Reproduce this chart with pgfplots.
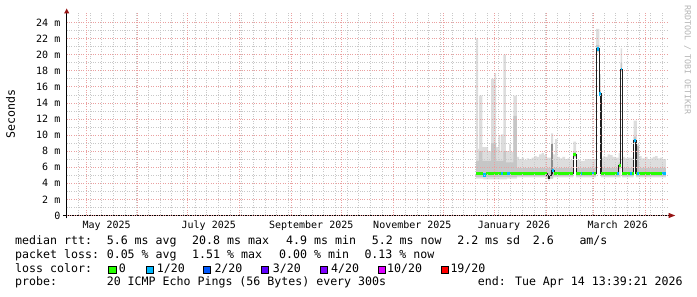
\documentclass[border=0pt]{standalone}
\usepackage{pgfplots}
\pgfplotsset{compat=1.18}
\usepgfplotslibrary{fillbetween}
\usepackage{fontspec}
\setmainfont{DejaVu Sans Mono}
\definecolor{smokeA}{RGB}{221,221,221}
\definecolor{smokeB}{RGB}{198,198,198}
\definecolor{smokeC}{RGB}{140,140,140}
\definecolor{mgrid}{RGB}{234,160,160}
\definecolor{lgrid}{RGB}{200,200,200}
\definecolor{medline}{HTML}{202020}
\definecolor{loss0}{HTML}{26FF00}
\definecolor{loss1}{HTML}{00B8FF}
\definecolor{loss2}{HTML}{0059FF}
\definecolor{loss3}{HTML}{5E00FF}
\definecolor{loss4}{HTML}{7E00FF}
\definecolor{loss10}{HTML}{DD00FF}
\definecolor{loss19}{HTML}{FF0000}
\definecolor{arrowred}{RGB}{150,20,20}
\newcommand{\legfont}{\fontsize{11.6}{14}\selectfont}
\begin{document}
\begin{tikzpicture}
\begin{axis}[
  at={(0,0)}, anchor=south west, scale only axis,
  width=601pt, height=203pt,
  xmin=-11.5, xmax=348.57, ymin=0, ymax=25.25,
  axis line style={draw=none},
  tick style={draw=none},
  major tick length=0pt, minor tick length=0pt,
  xtick={12.4,73.6,135.0,195.6,256.5,318.6},
  xticklabels={May 2025,July 2025,September 2025,November 2025,January 2026,March 2026},
  extra x ticks={0,31,61,92,123,153,184,214,245,276,304,335},
  extra x tick labels={},
  extra x tick style={grid=major, xticklabel style={opacity=0}},
  minor xtick={-4.6,2.4,...,345.4},
  xminorgrids=true,
  ytick={0,2,...,24},
  yticklabels={0,2 m,4 m,6 m,8 m,10 m,12 m,14 m,16 m,18 m,20 m,22 m,24 m},
  minor ytick={1,3,...,23},
  ymajorgrids=true, yminorgrids=true,
  major grid style={draw=mgrid, dash pattern=on 1pt off 1.4pt, line width=0.75pt},
  minor grid style={draw=lgrid, dash pattern=on 1pt off 1.4pt, line width=0.75pt},
  tick label style={font=\fontsize{10}{12}\selectfont, text=black},
  xticklabel style={anchor=north, inner sep=0pt, yshift=-5.5pt},
  yticklabel style={anchor=east, inner sep=0pt, xshift=-6.2pt},
  axis on top,
  clip=false,
]
% light smoke
\addplot[const plot, draw=none, name path=l1] coordinates {
(233.80,4.6) (238.17,4.5) (252.19,4.6) (258.19,4.75) (276.95,4.3) (277.85,4.6)
(279.95,4.75) (292.11,7.2) (293.73,4.75) (305.72,20.3) (307.70,14.8) (308.54,4.75)
(320.29,17.9) (321.31,4.75) (328.08,9.0) (329.52,4.75) (347.50,4.75)};
\addplot[const plot, draw=none, name path=u1] coordinates {
(233.80,22.0) (235.00,8.3) (235.60,14.9) (237.58,8.5) (240.98,8.0) (242.78,17.0)
(244.76,17.7) (245.78,8.5) (247.16,10.0) (248.36,8.0) (248.78,10.1) (250.16,20.0)
(251.59,8.0) (253.57,8.9) (254.59,7.9) (256.15,14.9) (258.19,7.3) (259.5,7.0)
(261,7.2) (262.5,6.9) (264,7.1) (265.5,7.0) (267,7.2) (268.5,7.4) (270,7.3)
(271.5,7.6) (273,7.8) (274.5,7.5) (276.17,7.2) (278.75,10.2) (279.95,7.6)
(281.15,9.5) (282.53,7.3) (284,7.1) (285.5,7.3) (287.14,7.0) (288.5,7.1)
(290.13,6.9) (292.11,9.2) (293.73,6.9) (296.55,6.8) (299,7.0) (302.12,7.0)
(305.72,23.2) (307.70,17.6) (308.54,7.2) (310,7.4) (311.12,7.3) (312.5,7.6)
(314.11,7.5) (315.5,7.3) (317.11,7.2) (319.09,7.8) (320.29,20.8) (321.31,7.3)
(323,7.1) (324.90,7.2) (328.08,11.8) (330.12,8.9) (331.50,7.4) (333,7.1)
(335.09,7.3) (336.5,7.0) (338.09,7.1) (339.5,7.3) (341.09,7.4) (342.5,7.1)
(344.09,7.2) (345.5,7.0) (347.50,7.0)};
\addplot[fill=smokeA, draw=none] fill between[of=u1 and l1];
% medium smoke
\addplot[const plot, draw=none, name path=l2] coordinates {
(233.80,4.8) (258.19,4.9) (276.17,4.6) (279.95,4.9) (292.11,7.3) (293.73,4.9)
(305.72,20.4) (307.70,14.9) (308.54,4.9) (319.09,5.8) (320.29,18.0) (321.31,4.9)
(328.08,9.1) (329.52,4.9) (347.50,4.9)};
\addplot[const plot, draw=none, name path=u2] coordinates {
(233.80,6.8) (235.60,8.0) (237.58,6.8) (242.78,9.0) (245.78,6.8) (250.16,8.0)
(251.59,6.6) (256.15,12.4) (258.19,5.9) (278.75,6.5) (279.95,5.9) (292.11,7.9)
(293.73,5.9) (305.72,21.2) (307.70,15.6) (308.54,5.9) (319.09,6.6) (320.29,19.0)
(321.31,5.9) (328.08,9.8) (329.52,5.9) (347.50,5.9)};
\addplot[fill=smokeB, draw=none] fill between[of=u2 and l2];
% dark smoke columns
\addplot[fill=smokeC, draw=none] coordinates {(278.75,4.9) (278.75,8.9) (279.95,8.9) (279.95,4.9)};
\addplot[fill=smokeC!60, draw=none] coordinates {(330.12,5.0) (330.12,8.7) (331.50,8.7) (331.50,5.0)};
% median
\addplot[const plot, draw=medline, line width=1.3pt] coordinates {
(233.80,5.25) (238.17,5.05) (239.61,5.2) (276.17,4.95) (276.95,4.6) (277.85,5.0)
(278.75,5.3) (279.17,5.6) (280.55,5.2) (292.11,7.6) (293.73,5.2) (305.72,20.7)
(307.70,15.1) (308.54,5.2) (319.09,6.2) (320.29,18.2) (321.31,5.2) (328.08,9.3)
(329.52,5.2) (347.50,5.2)};
% loss colour bands
\addplot[draw=loss0, line width=3.3pt, unbounded coords=jump] coordinates {
(233.80,5.25) (238.17,5.25) (238.17,nan)
(239.61,5.2) (248.78,5.2) (248.78,nan)
(250.16,5.2) (252.19,5.2) (252.19,nan)
(254.17,5.2) (276.17,5.2) (276.17,nan)
(280.55,5.2) (292.11,5.2) (292.11,nan)
(292.11,7.6) (293.73,7.6) (293.73,nan)
(293.73,5.2) (296.55,5.2) (296.55,nan)
(297.50,5.2) (303.14,5.2) (303.14,nan)
(304.52,5.2) (305.72,5.2) (305.72,nan)
(308.54,5.2) (318.13,5.2) (318.13,nan)
(319.09,6.2) (320.29,6.2) (320.29,nan)
(321.31,5.2) (326.10,5.2) (326.10,nan)
(327.12,5.2) (328.08,5.2) (328.08,nan)
(329.52,5.2) (330.12,5.2) (330.12,nan)
(331.50,5.2) (345.11,5.2)};
\addplot[draw=loss1, line width=3.3pt, unbounded coords=jump] coordinates {
(238.17,5.05) (239.61,5.05) (239.61,nan)
(248.78,5.2) (250.16,5.2) (250.16,nan)
(252.19,5.2) (254.17,5.2) (254.17,nan)
(279.17,5.6) (280.55,5.6) (280.55,nan)
(296.55,5.2) (297.50,5.2) (297.50,nan)
(303.14,5.2) (304.52,5.2) (304.52,nan)
(306.50,20.7) (307.52,20.7) (307.52,nan)
(307.70,15.1) (308.54,15.1) (308.54,nan)
(318.13,5.2) (319.09,5.2) (319.09,nan)
(320.29,18.2) (321.31,18.2) (321.31,nan)
(326.10,5.2) (327.12,5.2) (327.12,nan)
(328.08,9.3) (329.52,9.3) (329.52,nan)
(330.12,5.2) (331.50,5.2) (331.50,nan)
(345.11,5.2) (347.50,5.2)};
\end{axis}
% axes with arrows
\draw[black, line width=1pt] (-3.5pt,0pt) -- (603pt,0pt);
\draw[black, line width=1pt] (0pt,-3pt) -- (0pt,202.5pt);
\fill[arrowred] (602pt,2.6pt) -- (608.5pt,0pt) -- (602pt,-2.6pt) -- cycle;
\fill[arrowred] (-2.6pt,202pt) -- (0pt,207pt) -- (2.6pt,202pt) -- cycle;
% y label and watermark
\node[rotate=90, font=\legfont, inner sep=0pt] at (-56.2pt,101.5pt) {Seconds};
\node[rotate=-90, font=\fontsize{8.3}{10}\selectfont, text={rgb,255:red,180;green,180;blue,180}, inner sep=0pt] at (620.8pt,155.5pt) {RRDTOOL / TOBI OETIKER};
% legend
\begin{scope}[every node/.style={anchor=base west, inner sep=0pt, font=\legfont}]
\node at (-51.7pt,-29.5pt) {median rtt:};
\node at (39.9pt,-29.5pt) {5.6 ms avg};
\node at (125.3pt,-29.5pt) {20.8 ms max};
\node at (219.3pt,-29.5pt) {4.9 ms min};
\node at (304.9pt,-29.5pt) {5.2 ms now};
\node at (390.4pt,-29.5pt) {2.2 ms sd};
\node at (465.9pt,-29.5pt) {2.6};
\node at (512.6pt,-29.5pt) {am/s};
\node at (-51.7pt,-43pt) {packet loss:};
\node at (39.9pt,-43pt) {0.05 \% avg};
\node at (125.3pt,-43pt) {1.51 \% max};
\node at (212.3pt,-43pt) {0.00 \% min};
\node at (297.6pt,-43pt) {0.13 \% now};
\node at (-51.7pt,-56.7pt) {loss color:};
\node at (51.9pt,-56.7pt) {0};
\node at (89.9pt,-56.7pt) {1/20};
\node at (147.6pt,-56.7pt) {2/20};
\node at (205.9pt,-56.7pt) {3/20};
\node at (264.3pt,-56.7pt) {4/20};
\node at (320.3pt,-56.7pt) {10/20};
\node at (383.6pt,-56.7pt) {19/20};
\node at (-51.7pt,-70.5pt) {probe:};
\node at (39.9pt,-70.5pt) {20 ICMP Echo Pings (56 Bytes) every 300s};
\node at (410.9pt,-70.5pt) {end: Tue Apr 14 13:39:21 2026};
\end{scope}
\begin{scope}[line width=0.6pt]
\filldraw[fill=loss0, draw=black] (41.6pt,-58.2pt) rectangle (49.3pt,-50.5pt);
\filldraw[fill=loss1, draw=black] (79.3pt,-58.2pt) rectangle (86.6pt,-50.5pt);
\filldraw[fill=loss2, draw=black] (136.6pt,-58.2pt) rectangle (144pt,-50.5pt);
\filldraw[fill=loss3, draw=black] (195pt,-58.2pt) rectangle (202pt,-50.5pt);
\filldraw[fill=loss4, draw=black] (253.3pt,-58.2pt) rectangle (260.6pt,-50.5pt);
\filldraw[fill=loss10, draw=black] (311.6pt,-58.2pt) rectangle (318.3pt,-50.5pt);
\filldraw[fill=loss19, draw=black] (375pt,-58.2pt) rectangle (381.6pt,-50.5pt);
\end{scope}
\pgfresetboundingbox
\useasboundingbox (-66.7pt,-81.5pt) rectangle (630.3pt,215.5pt);
\end{tikzpicture}
\end{document}
